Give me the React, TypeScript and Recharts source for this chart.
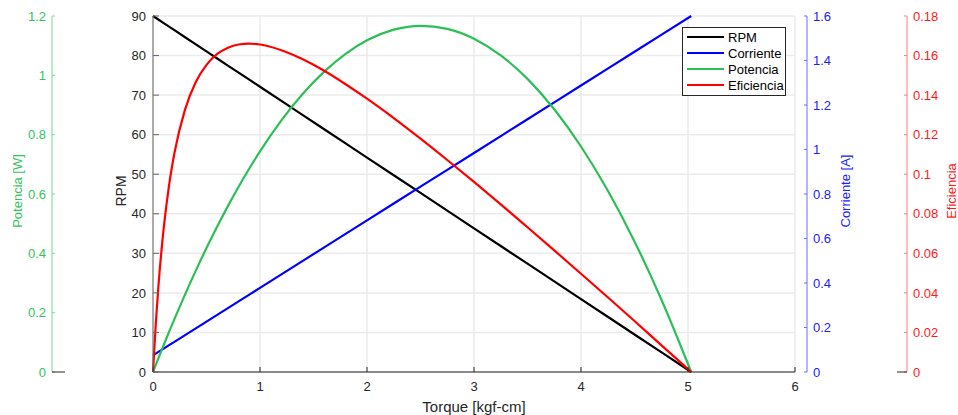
import { LineChart, Line, XAxis, YAxis, CartesianGrid, Legend } from 'recharts';

// torque [kgf-cm]
const torque = [0, 0.025, 0.05, 0.1, 0.15, 0.2, 0.3, 0.4, 0.5, 0.6, 0.7, 0.8, 0.9, 1.0, 1.2, 1.4, 1.6, 1.8, 2.0, 2.25, 2.5, 2.75, 3.0, 3.25, 3.5, 3.75, 4.0, 4.25, 4.5, 4.75, 5.03];
const rpm = [90, 89.55, 89.11, 88.21, 87.32, 86.42, 84.63, 82.84, 81.05, 79.26, 77.47, 75.69, 73.9, 72.11, 68.53, 64.95, 61.37, 57.79, 54.21, 49.74, 45.27, 40.8, 36.32, 31.85, 27.38, 22.9, 18.43, 13.96, 9.48, 5.01, 0];
const corriente = [0.075, 0.0826, 0.0902, 0.1053, 0.1205, 0.1356, 0.166, 0.1963, 0.2266, 0.2569, 0.2872, 0.3176, 0.3479, 0.3782, 0.4388, 0.4995, 0.5601, 0.6207, 0.6813, 0.7572, 0.833, 0.9087, 0.9845, 1.0603, 1.1361, 1.2119, 1.2877, 1.3635, 1.4393, 1.5151, 1.6];
const potencia = [0, 0.0231, 0.0459, 0.091, 0.135, 0.1782, 0.2618, 0.3417, 0.4179, 0.4904, 0.5592, 0.6244, 0.6858, 0.7435, 0.848, 0.9376, 1.0125, 1.0727, 1.1181, 1.154, 1.167, 1.1568, 1.1236, 1.0673, 0.988, 0.8856, 0.7601, 0.6116, 0.44, 0.2454, 0];
const eficiencia = [0, 0.0235, 0.0429, 0.0727, 0.0944, 0.1106, 0.1328, 0.1466, 0.1553, 0.1608, 0.164, 0.1656, 0.166, 0.1656, 0.1627, 0.1581, 0.1523, 0.1455, 0.1382, 0.1284, 0.118, 0.1072, 0.0961, 0.0848, 0.0732, 0.0615, 0.0497, 0.0378, 0.0258, 0.0136, 0];

const xTicks = [0, 1, 2, 3, 4, 5, 6];
const rpmTicks = [0, 10, 20, 30, 40, 50, 60, 70, 80, 90];
const potTicks = [0, 0.2, 0.4, 0.6, 0.8, 1, 1.2];
const corTicks = [0, 0.2, 0.4, 0.6, 0.8, 1, 1.2, 1.4, 1.6];
const efTicks = [0, 0.02, 0.04, 0.06, 0.08, 0.1, 0.12, 0.14, 0.16, 0.18];

const legendItems = [
  { name: 'RPM', color: '#000000' },
  { name: 'Corriente', color: '#0000ff' },
  { name: 'Potencia', color: '#2cbf57' },
  { name: 'Eficiencia', color: '#ff0000' },
];

const data = torque.map((t, i) => ({
  torque: t,
  rpm: rpm[i],
  corriente: corriente[i],
  potencia: potencia[i],
  eficiencia: eficiencia[i],
}));

const fmt = (v: number) => String(Number(v.toFixed(2)));

// axis ids are sorted by name when stacking: "a_" sits next to the plot
const axisTitle = (text: string, dx: number, color: string, size = 13) => (props: any) => {
  const vb = props.viewBox ?? props;
  const cx = vb.x + dx;
  const cy = vb.y + vb.height / 2 - 3;
  return (
    <text x={cx} y={cy} transform={`rotate(-90, ${cx}, ${cy})`} textAnchor="middle" dominantBaseline="central" fill={color} fontSize={size}>
      {text}
    </text>
  );
};

const xTitle = (props: any) => {
  const vb = props.viewBox ?? props;
  return (
    <text x={vb.x + vb.width / 2} y={vb.y + 40} textAnchor="middle" fill="#262626" fontSize={15}>
      Torque [kgf-cm]
    </text>
  );
};

// side-axis tick: label plus the little black stub matlab leaves at the zero of the extra axes
const sideTick = (color: string, side: 'left' | 'right') => (props: any) => {
  const { x, y, payload } = props;
  const isZero = payload.value === 0;
  return (
    <g>
      <text x={x} y={y} dy="0.355em" textAnchor={side === 'left' ? 'end' : 'start'} fill={color} fontSize={13}>
        {fmt(payload.value)}
      </text>
      {isZero && side === 'left' && <line x1={x + 6} x2={x + 19} y1={y} y2={y} stroke="#262626" strokeWidth={1} />}
      {isZero && side === 'right' && <line x1={x - 16} x2={x - 6} y1={y} y2={y} stroke="#262626" strokeWidth={1} />}
    </g>
  );
};

function LegendBox() {
  return (
    <div style={{ border: '1px solid #262626', background: '#fff', width: 102, padding: '1px 0 2px 0', fontSize: 13, color: '#000' }}>
      {legendItems.map((it) => (
        <div key={it.name} style={{ display: 'flex', alignItems: 'center', height: 16 }}>
          <svg width={42} height={16} style={{ marginLeft: 3 }}>
            <line x1={1} x2={38} y1={8} y2={8} stroke={it.color} strokeWidth={2} />
          </svg>
          <span>{it.name}</span>
        </div>
      ))}
    </div>
  );
}

export default function App() {
  return (
    <div style={{ position: 'absolute', left: 0, top: 0, fontFamily: '"Liberation Sans", Arial, sans-serif' }}>
      <LineChart width={958} height={415} data={data} margin={{ top: 16, right: 0, left: 0, bottom: 0 }}>
        <CartesianGrid yAxisId="a_rpm" stroke="#ebebeb" strokeWidth={1.5} />
        <XAxis
          dataKey="torque"
          type="number"
          domain={[0, 6]}
          ticks={xTicks}
          height={43}
          stroke="#262626"
          tick={{ fill: '#262626', fontSize: 13 }}
          tickSize={-5}
          tickMargin={15}
          label={{ content: xTitle }}
        />
        <YAxis
          yAxisId="a_rpm"
          orientation="left"
          width={101}
          domain={[0, 90]}
          ticks={rpmTicks}
          stroke="#666666"
          tick={{ fill: '#262626', fontSize: 13 }}
          tickSize={-6}
          tickMargin={13}
          label={{ content: axisTitle('RPM', 69, '#262626', 14) }}
        />
        <YAxis
          yAxisId="b_pot"
          orientation="left"
          width={52}
          domain={[0, 1.2]}
          ticks={potTicks}
          stroke="#7dd896"
          tick={sideTick('#33c45e', 'left')}
          tickSize={-3}
          tickMargin={9}
          label={{ content: axisTitle('Potencia [W]', 17, '#33c45e') }}
        />
        <YAxis yAxisId="a_pad" orientation="right" width={12} tick={false} axisLine={false} tickLine={false} />
        <YAxis
          yAxisId="b_cor"
          orientation="right"
          width={100}
          domain={[0, 1.6]}
          ticks={corTicks}
          tickFormatter={fmt}
          stroke="#6b6bff"
          tick={{ fill: '#2020ff', fontSize: 13 }}
          tickSize={-3}
          tickMargin={9}
          label={{ content: axisTitle('Corriente [A]', 38, '#2020ff') }}
        />
        <YAxis
          yAxisId="c_ef"
          orientation="right"
          width={51}
          domain={[0, 0.18]}
          ticks={efTicks}
          stroke="#ff7a7a"
          tick={sideTick('#ff1a1a', 'right')}
          tickSize={-3}
          tickMargin={9}
          label={{ content: axisTitle('Eficiencia', 44, '#ff1a1a') }}
        />
        <Line yAxisId="a_rpm" dataKey="rpm" stroke="#000000" strokeWidth={2.2} dot={false} type="linear" isAnimationActive={false} />
        <Line yAxisId="b_cor" dataKey="corriente" stroke="#0000ff" strokeWidth={2.2} dot={false} type="linear" isAnimationActive={false} />
        <Line yAxisId="b_pot" dataKey="potencia" stroke="#2cbf57" strokeWidth={2.2} dot={false} type="monotone" isAnimationActive={false} />
        <Line yAxisId="c_ef" dataKey="eficiencia" stroke="#ff0000" strokeWidth={2.2} dot={false} type="monotone" isAnimationActive={false} />
        <Legend
          layout="vertical"
          align="center"
          verticalAlign="middle"
          content={() => <LegendBox />}
          wrapperStyle={{ left: 682, top: 27, width: 'auto', bottom: 'auto', right: 'auto' }}
        />
      </LineChart>
    </div>
  );
}
